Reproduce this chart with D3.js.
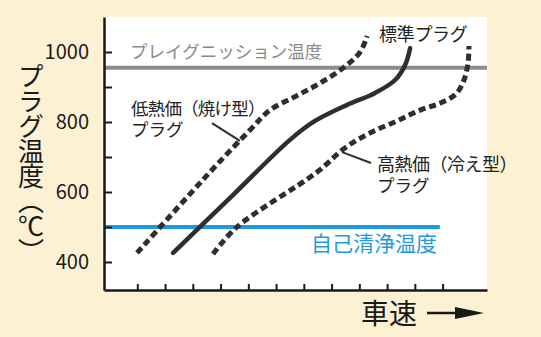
<!DOCTYPE html>
<html>
<head>
<meta charset="utf-8">
<script src="https://cdn.jsdelivr.net/npm/d3@7"></script>
<style>
  body { margin: 0; background: #fdf1d4; }
  svg { display: block; }
  text { font-family: "Noto Sans CJK JP", "Noto Sans", sans-serif; }
</style>
</head>
<body>
<svg id="drawing_region"></svg>
<script>
// x: 車速 (arbitrary units), y: プラグ温度 (℃)
const speedTicks = [1, 2, 3, 4, 5, 6, 7, 8, 9, 10, 11, 12];
const tempTicks = [400, 500, 600, 700, 800, 900, 1000];
const tempLabels = [400, 600, 800, 1000];

// 標準プラグ
const standardPlug = [[2.29, 426], [4.52, 597], [6.50, 749], [7.40, 803], [8.56, 849],
    [9.57, 883], [10.29, 920], [10.65, 963], [10.83, 1011]];
// 低熱価(焼け型)プラグ
const hotPlug = [[0.99, 426], [3.69, 663], [5.06, 777], [5.78, 834], [6.72, 874],
    [7.58, 911], [8.41, 954], [9.03, 1000], [9.28, 1046]];
// 高熱価(冷え型)プラグ
const coldPlug = [[3.73, 423], [4.59, 500], [7.48, 657], [8.48, 726], [9.39, 769],
    [10.36, 803], [11.19, 834], [11.91, 854], [12.48, 880], [12.77, 920],
    [12.92, 971], [12.95, 1017]];

const preIgnitionTemp = 955;
const selfCleaningTemp = 500;
const selfCleaningEnd = 11.9;

// leader lines [from, to]
const leaders = [
    [[3.69, 797], [4.70, 746]],
    [[8.38, 714], [9.42, 683]]
];

const width = 541, height = 337;
const svg = d3.select('#drawing_region')
    .attr('width', width)
    .attr('height', height);

const xscale = d3.scaleLinear().domain([-0.2, 13.6]).range([104, 487]);
const yscale = d3.scaleLinear().domain([320, 1100]).range([290, 17]);

// plot background
svg.append('rect')
    .attr('x', xscale(-0.2)).attr('y', yscale(1100))
    .attr('width', xscale(13.6) - xscale(-0.2))
    .attr('height', yscale(320) - yscale(1100))
    .attr('fill', '#ffffff');

// reference lines
svg.append('line')
    .attr('x1', xscale(-0.2)).attr('x2', xscale(13.6))
    .attr('y1', yscale(preIgnitionTemp)).attr('y2', yscale(preIgnitionTemp))
    .attr('stroke', '#8c8c8c').attr('stroke-width', 4);

svg.append('line')
    .attr('x1', xscale(-0.2)).attr('x2', xscale(selfCleaningEnd))
    .attr('y1', yscale(selfCleaningTemp)).attr('y2', yscale(selfCleaningTemp))
    .attr('stroke', '#1f9ade').attr('stroke-width', 4);

// axes
const xaxis = d3.axisBottom(xscale)
    .tickValues(speedTicks)
    .tickSizeInner(-6)
    .tickSizeOuter(0)
    .tickFormat('');
const yaxis = d3.axisLeft(yscale)
    .tickValues(tempTicks)
    .tickSizeInner(-8)
    .tickSizeOuter(0)
    .tickPadding(15)
    .tickFormat(d => tempLabels.includes(d) ? d : '');

const xg = svg.append('g')
    .attr('transform', `translate(0, ${yscale(320)})`)
    .call(xaxis);
const yg = svg.append('g')
    .attr('transform', `translate(${xscale(-0.2)}, 0)`)
    .call(yaxis);

[xg, yg].forEach(g => {
    g.select('.domain').attr('stroke', '#1a1a1a').attr('stroke-width', 2.5);
    g.selectAll('.tick line').attr('stroke', '#1a1a1a').attr('stroke-width', 2);
});
yg.selectAll('.tick text')
    .attr('fill', '#1a1a1a')
    .style('font-size', '20px')
    .style('font-family', '"Noto Sans CJK JP", sans-serif');

// curves
const line = d3.line()
    .x(d => xscale(d[0]))
    .y(d => yscale(d[1]))
    .curve(d3.curveCatmullRom.alpha(0.5));

svg.append('path')
    .attr('d', line(hotPlug))
    .attr('fill', 'none')
    .attr('stroke', '#2e2e2e')
    .attr('stroke-width', 5)
    .attr('stroke-dasharray', '7,4');

svg.append('path')
    .attr('d', line(coldPlug))
    .attr('fill', 'none')
    .attr('stroke', '#2e2e2e')
    .attr('stroke-width', 5)
    .attr('stroke-dasharray', '7,4');

svg.append('path')
    .attr('d', line(standardPlug))
    .attr('fill', 'none')
    .attr('stroke', '#2e2e2e')
    .attr('stroke-width', 4.5)
    .attr('stroke-linecap', 'round');

svg.selectAll('.leader')
    .data(leaders)
    .enter()
    .append('line')
    .attr('x1', d => xscale(d[0][0])).attr('y1', d => yscale(d[0][1]))
    .attr('x2', d => xscale(d[1][0])).attr('y2', d => yscale(d[1][1]))
    .attr('stroke', '#2e2e2e')
    .attr('stroke-width', 2);

// labels
const label = (x, y, str, size, color, spacing) => {
    return svg.append('text')
        .attr('x', x).attr('y', y)
        .attr('fill', color)
        .style('font-size', size + 'px')
        .style('letter-spacing', (spacing || 0) + 'px')
        .text(str);
};

label(130, 58, 'プレイグニッション温度', 17.5, '#8a8a8a');
label(379, 41, '標準プラグ', 18, '#222', -0.3);
label(131, 115, '低熱価（焼け型）', 17.5, '#222', -0.8);
label(131, 136, 'プラグ', 17.5, '#222');
label(377, 171, '高熱価（冷え型）', 18, '#222', -0.5);
label(377, 192, 'プラグ', 17.5, '#222');
label(311, 251, '自己清浄温度', 21, '#1f9ade');
label(361, 324, '車速', 28, '#1a1a1a');

// y title (vertical)
svg.append('text')
    .attr('x', 31).attr('y', 63)
    .attr('fill', '#1a1a1a')
    .style('font-size', '26px')
    .style('writing-mode', 'vertical-rl')
    .style('letter-spacing', '-1px')
    .text('プラグ温度（℃）');

// arrow
svg.append('line')
    .attr('x1', 427).attr('x2', 460)
    .attr('y1', 313).attr('y2', 313)
    .attr('stroke', '#1a1a1a').attr('stroke-width', 2.5);
svg.append('path')
    .attr('d', 'M455,307 L484,313 L455,319 Z')
    .attr('fill', '#1a1a1a');
</script>
</body>
</html>
